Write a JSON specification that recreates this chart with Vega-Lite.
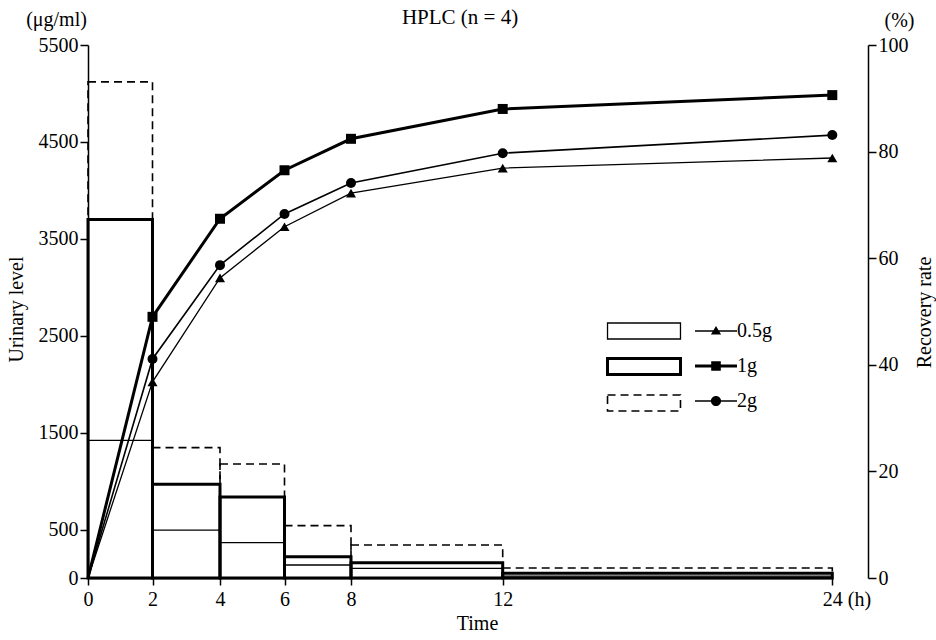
{
  "$schema": "https://vega.github.io/schema/vega-lite/v6.json",
  "width": 744,
  "height": 533,
  "autosize": {"type": "none"},
  "padding": {"left": 88, "top": 45, "right": 104, "bottom": 62},
  "background": "white",
  "title": {"text": "HPLC (n = 4)", "font": "Liberation Serif", "fontSize": 21, "fontWeight": "normal", "color": "black", "anchor": "middle", "offset": 6, "dy": 25},
  "datasets": {
    "urinary": [
      {"dose": "0.5g", "start": 0, "end": 2, "level": 1420},
      {"dose": "0.5g", "start": 2, "end": 4, "level": 495},
      {"dose": "0.5g", "start": 4, "end": 6, "level": 365},
      {"dose": "0.5g", "start": 6, "end": 8, "level": 134},
      {"dose": "0.5g", "start": 8, "end": 12, "level": 100},
      {"dose": "0.5g", "start": 12, "end": 24, "level": 20},
      {"dose": "2g", "start": 0, "end": 2, "level": 5120},
      {"dose": "2g", "start": 2, "end": 4, "level": 1345},
      {"dose": "2g", "start": 4, "end": 6, "level": 1176},
      {"dose": "2g", "start": 6, "end": 8, "level": 540},
      {"dose": "2g", "start": 8, "end": 12, "level": 340},
      {"dose": "2g", "start": 12, "end": 24, "level": 103},
      {"dose": "1g", "start": 0, "end": 2, "level": 3700},
      {"dose": "1g", "start": 2, "end": 4, "level": 967},
      {"dose": "1g", "start": 4, "end": 6, "level": 835},
      {"dose": "1g", "start": 6, "end": 8, "level": 218},
      {"dose": "1g", "start": 8, "end": 12, "level": 158},
      {"dose": "1g", "start": 12, "end": 24, "level": 48}
    ],
    "recovery": [
      {"dose": "0.5g", "time": 0, "rate": 0},
      {"dose": "0.5g", "time": 2, "rate": 36.8},
      {"dose": "0.5g", "time": 4, "rate": 56.3},
      {"dose": "0.5g", "time": 6, "rate": 65.9},
      {"dose": "0.5g", "time": 8, "rate": 72.2},
      {"dose": "0.5g", "time": 12, "rate": 76.9},
      {"dose": "0.5g", "time": 24, "rate": 78.8},
      {"dose": "1g", "time": 0, "rate": 0},
      {"dose": "1g", "time": 2, "rate": 49.0},
      {"dose": "1g", "time": 4, "rate": 67.4},
      {"dose": "1g", "time": 6, "rate": 76.5},
      {"dose": "1g", "time": 8, "rate": 82.4},
      {"dose": "1g", "time": 12, "rate": 88.0},
      {"dose": "1g", "time": 24, "rate": 90.6},
      {"dose": "2g", "time": 0, "rate": 0},
      {"dose": "2g", "time": 2, "rate": 41.1},
      {"dose": "2g", "time": 4, "rate": 58.7},
      {"dose": "2g", "time": 6, "rate": 68.3},
      {"dose": "2g", "time": 8, "rate": 74.1},
      {"dose": "2g", "time": 12, "rate": 79.7},
      {"dose": "2g", "time": 24, "rate": 83.1}
    ]
  },
  "resolve": {"scale": {"y": "independent", "shape": "independent"}},
  "layer": [
    {
      "data": {"name": "urinary"},
      "transform": [{"filter": "datum.dose != '2g'"}],
      "mark": {"type": "rect", "filled": false, "color": "black"},
      "encoding": {
        "x": {
          "field": "start", "type": "quantitative",
          "scale": {"domain": [0, 2, 4, 6, 8, 12, 24], "range": [0, 64.5, 132, 196.5, 263, 414.7, 744.3], "nice": false, "zero": false},
          "axis": {
            "values": [0, 2, 4, 6, 8, 12, 24], "title": "Time", "titleX": 389, "titleY": 45,
            "titleAlign": "center", "titleBaseline": "middle", "labelPadding": 4, "tickSize": 7, "labelOverlap": false,
            "labelExpr": "datum.value == 24 ? '24 (h)' : datum.label",
            "labelAlign": {"condition": {"test": "datum.value == 24", "value": "left"}, "value": "center"},
            "labelOffset": {"condition": {"test": "datum.value == 24", "value": -10}, "value": 0}
          }
        },
        "x2": {"field": "end"},
        "y": {
          "field": "level", "type": "quantitative",
          "scale": {"domain": [0, 5500], "nice": false},
          "axis": {
            "values": [0, 500, 1500, 2500, 3500, 4500, 5500], "format": "d", "title": "Urinary level",
            "titleAngle": 270, "titleX": -72, "titleY": 264, "titleAlign": "center", "titleBaseline": "middle",
            "labelPadding": 2, "tickSize": 8, "labelOverlap": false
          }
        },
        "y2": {"datum": 0},
        "strokeWidth": {
          "field": "dose", "type": "ordinal",
          "scale": {"type": "ordinal", "domain": ["0.5g", "1g", "2g"], "range": [1.3, 3, 1.6]},
          "legend": {"orient": "none", "legendX": 546, "legendY": 276, "title": null, "direction": "vertical",
            "symbolType": "M-4.56,-1H4.56V1H-4.56Z", "symbolSize": 256, "symbolFillColor": "transparent",
            "symbolStrokeColor": "black", "labelExpr": "''", "labelFontSize": 20, "rowPadding": 10.5,
            "encode": {"symbols": {"update": {
              "strokeDash": {"signal": "datum.value == '2g' ? [8, 5] : [1, 0]"},
              "stroke": {"value": "black"},
              "fill": {"value": "transparent"}
            }}}}
        }
      }
    },
    {
      "data": {"name": "urinary"},
      "transform": [{"filter": "datum.dose == '2g'"}],
      "mark": {"type": "rect", "filled": false, "color": "black", "stroke": "black", "strokeWidth": 1.6, "strokeDash": [8, 5]},
      "encoding": {
        "x": {"field": "start", "type": "quantitative",
          "scale": {"domain": [0, 2, 4, 6, 8, 12, 24], "range": [0, 64.5, 132, 196.5, 263, 414.7, 744.3], "nice": false, "zero": false}},
        "x2": {"field": "end"},
        "y": {"field": "level", "type": "quantitative", "scale": {"domain": [0, 5500], "nice": false}, "axis": null},
        "y2": {"datum": 0}
      }
    },
    {
      "data": {"name": "recovery"},
      "mark": {"type": "line", "color": "black"},
      "encoding": {
        "x": {"field": "time", "type": "quantitative",
          "scale": {"domain": [0, 2, 4, 6, 8, 12, 24], "range": [0, 64.5, 132, 196.5, 263, 414.7, 744.3], "nice": false, "zero": false}},
        "y": {
          "field": "rate", "type": "quantitative",
          "scale": {"domain": [0, 100], "nice": false},
          "axis": {
            "orient": "right", "offset": 36, "values": [0, 20, 40, 60, 80, 100], "title": "Recovery rate",
            "titleAngle": 270, "titleX": 56, "titleY": 267, "titleAlign": "center", "titleBaseline": "middle",
            "labelPadding": 2, "tickSize": 8, "labelOverlap": false
          }
        },
        "detail": {"field": "dose"},
        "strokeWidth": {
          "field": "dose", "type": "ordinal",
          "scale": {"type": "ordinal", "domain": ["0.5g", "1g", "2g"], "range": [1.3, 3, 1.6]},
          "legend": null
        }
      }
    },
    {
      "data": {"name": "recovery"},
      "transform": [{"filter": "datum.time > 0"}],
      "mark": {"type": "point", "filled": true, "color": "black", "size": 100, "opacity": 1},
      "encoding": {
        "x": {"field": "time", "type": "quantitative",
          "scale": {"domain": [0, 2, 4, 6, 8, 12, 24], "range": [0, 64.5, 132, 196.5, 263, 414.7, 744.3], "nice": false, "zero": false}},
        "y": {
          "field": "rate", "type": "quantitative",
          "scale": {"domain": [0, 100], "nice": false},
          "axis": {
            "orient": "right", "offset": 36, "domain": false, "ticks": false, "labels": false, "grid": false,
            "title": "(%)", "titleAngle": 0, "titleX": 31, "titleY": -25, "titleAlign": "center", "titleBaseline": "middle"
          }
        },
        "shape": {
          "field": "dose", "type": "nominal",
          "scale": {"domain": ["0.5g", "1g", "2g"], "range": ["triangle-up", "square", "circle"]},
          "legend": null
        }
      }
    },
    {
      "data": {"name": "recovery"},
      "transform": [{"filter": "datum.time < 0"}],
      "mark": {"type": "point", "filled": true, "fill": "black", "stroke": "black", "strokeWidth": 1.8},
      "encoding": {
        "x": {"field": "time", "type": "quantitative",
          "scale": {"domain": [0, 2, 4, 6, 8, 12, 24], "range": [0, 64.5, 132, 196.5, 263, 414.7, 744.3], "nice": false, "zero": false}},
        "y": {
          "field": "rate", "type": "quantitative",
          "scale": {"domain": [0, 100], "nice": false},
          "axis": {
            "orient": "left", "domain": false, "ticks": false, "labels": false, "grid": false,
            "title": "(μg/ml)", "titleAngle": 0, "titleX": -32, "titleY": -26, "titleAlign": "center", "titleBaseline": "middle"
          }
        },
        "shape": {
          "field": "dose", "type": "nominal",
          "scale": {"domain": ["0.5g", "1g", "2g"], "range": [
            "M-3.5,-0.12H3.5V0.12H-3.5ZM0,-0.85L0.85,0.6L-0.85,0.6Z",
            "M-3.5,-0.25H3.5V0.25H-3.5ZM-0.8,-0.8H0.8V0.8H-0.8Z",
            "M-3.5,-0.13H3.5V0.13H-3.5ZM-0.85,0A0.85,0.85,0,1,1,0.85,0A0.85,0.85,0,1,1,-0.85,0Z"
          ]},
          "legend": {"orient": "none", "legendX": 618, "legendY": 276, "title": null, "direction": "vertical",
            "symbolSize": 144, "symbolFillColor": "black", "symbolStrokeColor": "black", "symbolStrokeWidth": 1.8,
            "symbolOpacity": 1, "labelFontSize": 20, "labelOffset": 11, "rowPadding": 15}
        }
      }
    }
  ],
  "config": {
    "view": {"stroke": null},
    "font": "Liberation Serif",
    "axis": {
      "domainColor": "black", "tickColor": "black", "labelColor": "black", "titleColor": "black", "grid": false,
      "labelFont": "Liberation Serif", "titleFont": "Liberation Serif", "labelFontSize": 20, "titleFontSize": 20,
      "titleFontWeight": "normal", "domainWidth": 1.5, "tickWidth": 1.5
    },
    "legend": {"labelFont": "Liberation Serif", "labelColor": "black", "labelFontSize": 20, "padding": 0}
  }
}
